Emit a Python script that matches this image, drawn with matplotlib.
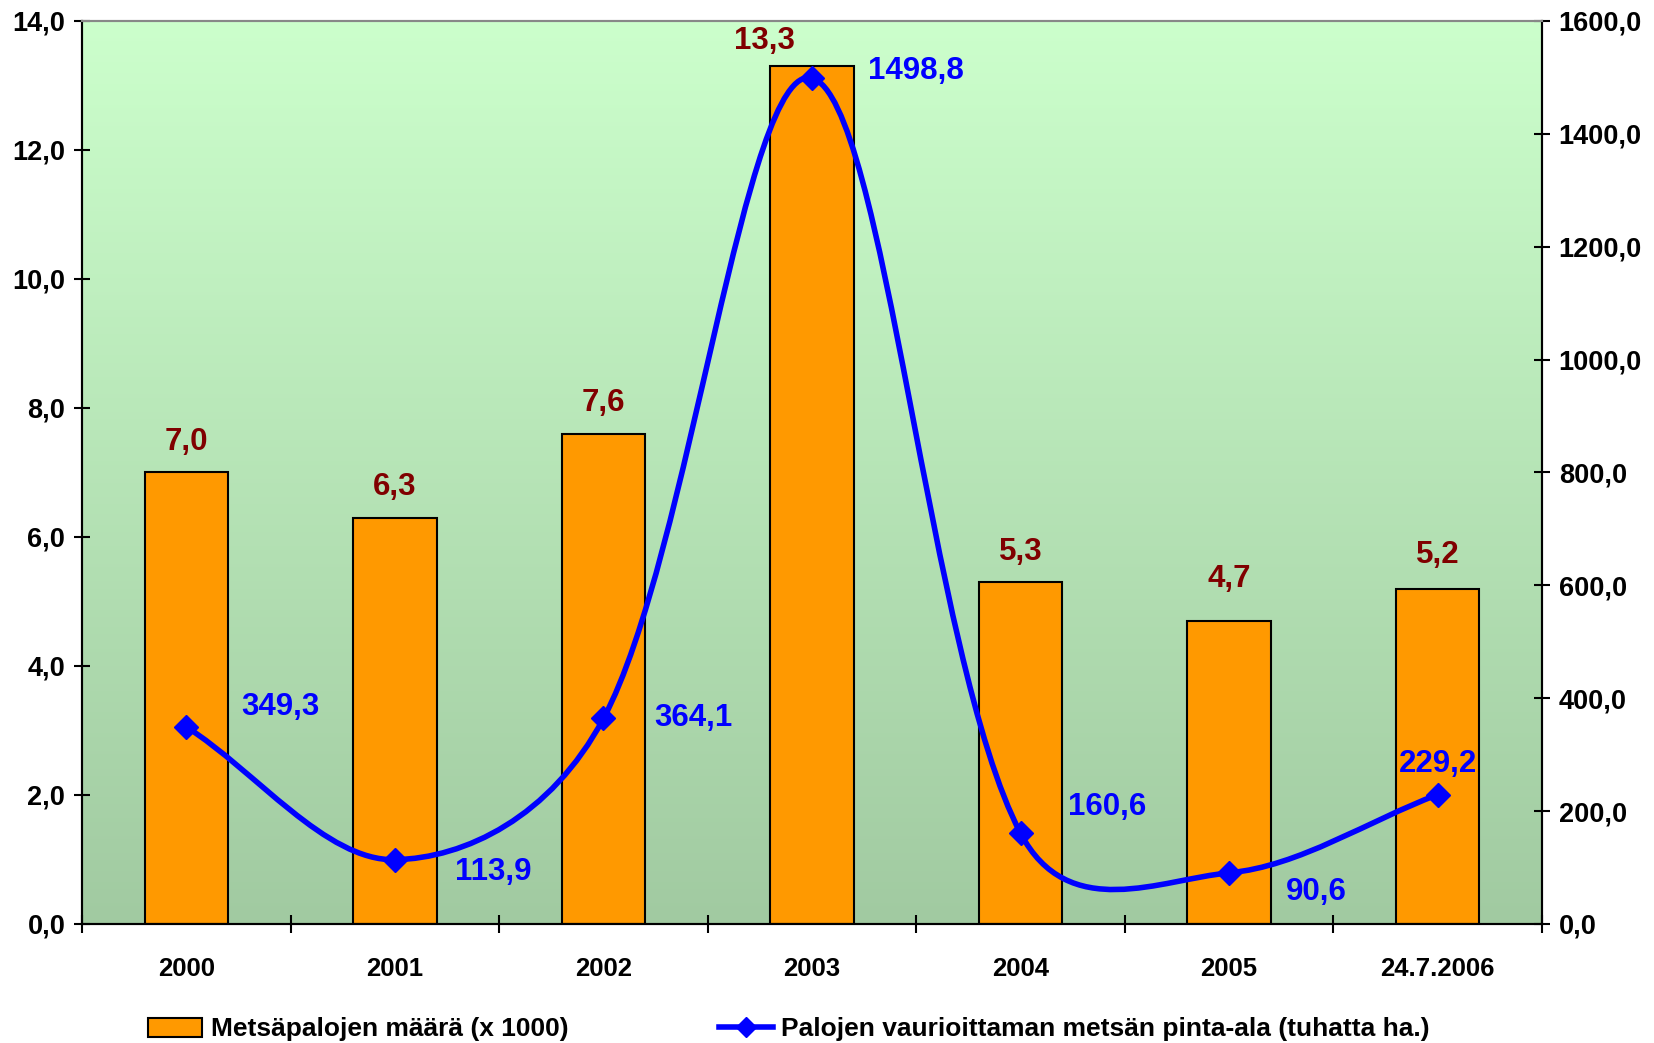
import numpy as np
import matplotlib
matplotlib.use("Agg")
import matplotlib.pyplot as plt
from matplotlib.path import Path
from matplotlib.patches import PathPatch, Patch
from matplotlib.lines import Line2D
from matplotlib.ticker import FuncFormatter

plt.rcParams['font.family'] = ['Liberation Sans', 'DejaVu Sans']
plt.rcParams['font.weight'] = 'bold'

# Data
categories = ['2000', '2001', '2002', '2003', '2004', '2005', '24.7.2006']
fires = [7.0, 6.3, 7.6, 13.3, 5.3, 4.7, 5.2]          # Metsäpalojen määrä (x 1000)
area = [349.3, 113.9, 364.1, 1498.8, 160.6, 90.6, 229.2]  # tuhatta ha.

# Label offsets in points (dx, dy)
fire_offsets = [(0, 22), (0, 22), (0, 22), (-34, 18), (0, 22), (0, 30), (0, 24)]
area_offsets = [(68, 14), (71, -9), (65, 0), (75, 5), (62, 19), (63, -14), (0, 22)]

BAR = '#FF9900'
RED = '#800000'
BLUE = '#0000FF'


def fmt(v):
    return '{:.1f}'.format(v).replace('.', ',')


# Smoothed line like Excel: cubic Bezier, tangents weighted by
# the (square root of) segment lengths on screen
def smooth_path(ax, xs, ys):
    pts = ax.transData.transform(np.column_stack([xs, ys]).astype(float))
    n = len(pts)
    seg = np.sqrt(np.hypot(*np.diff(pts, axis=0).T))
    verts = [pts[0]]
    codes = [Path.MOVETO]
    for i in range(n - 1):
        p1, p2 = pts[i], pts[i + 1]
        if i > 0:
            w = seg[i] / (seg[i - 1] + seg[i])
            c1 = p1 + (p2 - pts[i - 1]) * w / 3
        else:
            c1 = p1 + (p2 - p1) / 3
        if i + 2 < n:
            w = seg[i] / (seg[i] + seg[i + 1])
            c2 = p2 - (pts[i + 2] - p1) * w / 3
        else:
            c2 = p2 - (p2 - p1) / 3
        verts += [c1, c2, p2]
        codes += [Path.CURVE4] * 3
    verts = ax.transData.inverted().transform(np.array(verts))
    return Path(verts, codes)


fig = plt.figure(figsize=(16.54, 10.43), dpi=100)
ax1 = fig.add_axes([0.0496, 0.1141, 0.8827, 0.8658])
ax2 = ax1.twinx()

# Gradient background
grad = np.linspace(0, 1, 256).reshape(-1, 1)
top = np.array([204, 255, 204]) / 255
bottom = np.array([161, 202, 161]) / 255
img = top * (1 - grad[..., None]) + bottom * grad[..., None]
ax1.imshow(img, extent=[0, 1, 0, 1], transform=ax1.transAxes,
           aspect='auto', zorder=0)

x = np.arange(len(categories))
ax1.bar(x, fires, width=0.4, color=BAR, edgecolor='black', linewidth=1.5, zorder=2)
for i, v in enumerate(fires):
    ax1.annotate(fmt(v), (x[i], v), xytext=fire_offsets[i], textcoords='offset points',
                 ha='center', va='center', color=RED, fontsize=22.5, fontweight='bold')

ax1.set_xlim(-0.5, len(categories) - 0.5)
ax1.set_ylim(0, 14)
ax2.set_ylim(0, 1600)

path = smooth_path(ax2, x, area)
ax2.add_patch(PathPatch(path, facecolor='none', edgecolor=BLUE, linewidth=4,
                        capstyle='round', joinstyle='round', zorder=3))
ax2.plot(x, area, linestyle='none', marker='D', markersize=12, color=BLUE, zorder=4)
for i, v in enumerate(area):
    ax2.annotate(fmt(v), (x[i], v), xytext=area_offsets[i], textcoords='offset points',
                 ha='center', va='center', color=BLUE, fontsize=22.5, fontweight='bold')

# Axes styling
ax1.set_yticks(np.arange(0, 15, 2))
ax2.set_yticks(np.arange(0, 1601, 200))
ax1.yaxis.set_major_formatter(FuncFormatter(lambda v, p: fmt(v)))
ax2.yaxis.set_major_formatter(FuncFormatter(lambda v, p: fmt(v)))
ax1.tick_params(axis='y', direction='inout', length=12, width=1.5, labelsize=19.5, pad=6)
ax2.tick_params(axis='y', direction='inout', length=12, width=1.5, labelsize=19.5, pad=6)

ax1.set_xticks(np.arange(-0.5, len(categories), 1))
ax1.set_xticklabels([])
ax1.set_xticks(x, minor=True)
ax1.set_xticklabels(categories, minor=True)
ax1.tick_params(axis='x', which='major', direction='inout', length=13, width=1.5)
ax1.tick_params(axis='x', which='minor', length=0, labelsize=18.5, pad=24)

for ax in (ax1, ax2):
    ax.spines['top'].set_color('#888888')
    ax.spines['top'].set_linewidth(1.5)
    for s in ('left', 'right', 'bottom'):
        ax.spines[s].set_linewidth(1.5)
        ax.spines[s].set_color('black')

# Legend
handles = [Patch(facecolor=BAR, edgecolor='black', linewidth=1.5),
           Line2D([], [], color=BLUE, linewidth=4, marker='D', markersize=10)]
labels = ['Metsäpalojen määrä (x 1000)',
          'Palojen vaurioittaman metsän pinta-ala (tuhatta ha.)']
fig.legend(handles, labels, loc='center', bbox_to_anchor=(0.477, 0.013), ncol=2,
           frameon=False, fontsize=19, handlelength=2.05, handleheight=0.75,
           handletextpad=0.32, columnspacing=5.7)

fig.savefig('out.png', dpi=100)
